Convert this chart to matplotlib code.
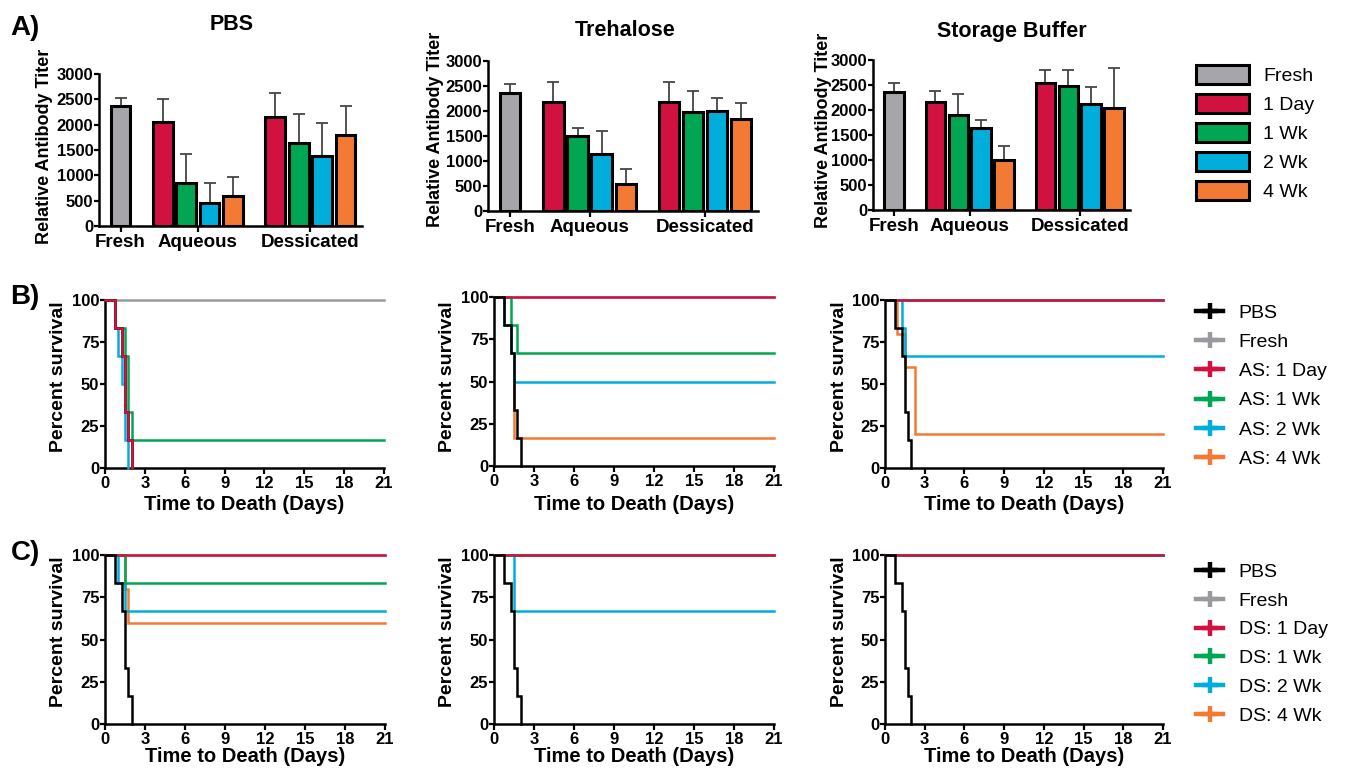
import matplotlib
matplotlib.use('Agg')
import matplotlib.pyplot as plt
from matplotlib.lines import Line2D
from matplotlib.patches import Patch
import numpy as np

plt.rcParams['font.family'] = ['Liberation Sans', 'DejaVu Sans']

# ---------------- data ----------------
bar_groups = ['Fresh', '1 Day', '1 Wk', '2 Wk', '4 Wk']
category_labels = ['Fresh', 'Aqueous', 'Dessicated']
formulations = ['PBS', 'Trehalose', 'Storage Buffer']

# relative antibody titer (mean, upper SD)
pbs_fresh, pbs_fresh_err = 2360, 175
pbs_aq = [2050, 855, 455, 590]
pbs_aq_err = [460, 575, 400, 385]
pbs_ds = [2150, 1630, 1380, 1800]
pbs_ds_err = [475, 590, 660, 565]

tre_fresh, tre_fresh_err = 2370, 175
tre_aq = [2190, 1500, 1145, 535]
tre_aq_err = [385, 170, 465, 310]
tre_ds = [2190, 1985, 2005, 1840]
tre_ds_err = [385, 415, 265, 315]

sb_fresh, sb_fresh_err = 2370, 180
sb_aq = [2165, 1900, 1640, 1010]
sb_aq_err = [220, 415, 155, 280]
sb_ds = [2535, 2480, 2130, 2045]
sb_ds_err = [260, 330, 325, 805]

# survival curves: (event times in days, percent survival)
pbs_ctrl_t = [0, 0.75, 1.25, 1.5, 1.75, 2.0]
pbs_ctrl_s = [100, 83.33, 66.67, 33.33, 16.67, 0]
flat_t = [0, 21]
flat_s = [100, 100]

# Row B: aqueous storage (AS)
b1_1day_t = [0, 0.75, 1.25, 1.5, 1.75, 2.0]
b1_1day_s = [100, 83.33, 66.67, 33.33, 16.67, 0]
b1_1wk_t = [0, 0.75, 1.5, 1.75, 2.0, 21]
b1_1wk_s = [100, 83.33, 66.67, 33.33, 16.67, 16.67]
b1_2wk_t = [0, 0.75, 1.0, 1.25, 1.5, 1.75]
b1_2wk_s = [100, 83.33, 66.67, 50, 16.67, 0]
b1_4wk_t = [0, 0.75, 1.25, 1.5, 1.75, 2.0]
b1_4wk_s = [100, 83.33, 66.67, 33.33, 16.67, 0]

b2_1wk_t = [0, 1.25, 1.75, 21]
b2_1wk_s = [100, 83.33, 66.67, 66.67]
b2_2wk_t = [0, 0.75, 1.25, 1.5, 21]
b2_2wk_s = [100, 83.33, 66.67, 50, 50]
b2_4wk_t = [0, 0.75, 1.25, 1.5, 21]
b2_4wk_s = [100, 83.33, 66.67, 16.67, 16.67]

b3_2wk_t = [0, 1.25, 1.5, 21]
b3_2wk_s = [100, 83.33, 66.67, 66.67]
b3_4wk_t = [0, 0.9, 1.5, 2.25, 21]
b3_4wk_s = [100, 80, 60, 20, 20]

# Row C: dessicated storage (DS)
c1_1wk_t = [0, 1.5, 21]
c1_1wk_s = [100, 83.33, 83.33]
c1_2wk_t = [0, 1.0, 1.5, 21]
c1_2wk_s = [100, 83.33, 66.67, 66.67]
c1_4wk_t = [0, 1.5, 1.75, 21]
c1_4wk_s = [100, 80, 60, 60]

c2_2wk_t = [0, 1.5, 21]
c2_2wk_s = [100, 66.67, 66.67]

surv_legend_b = ['PBS', 'Fresh', 'AS: 1 Day', 'AS: 1 Wk', 'AS: 2 Wk', 'AS: 4 Wk']
surv_legend_c = ['PBS', 'Fresh', 'DS: 1 Day', 'DS: 1 Wk', 'DS: 2 Wk', 'DS: 4 Wk']

# ---------------- style ----------------
C_GRAY = '#A5A5AA'
C_RED = '#D11241'
C_GREEN = '#00A651'
C_BLUE = '#00AEDB'
C_ORANGE = '#F37A35'
bar_colors = [C_GRAY, C_RED, C_GREEN, C_BLUE, C_ORANGE]
line_colors = ['black', '#9A9A9E', C_RED, C_GREEN, C_BLUE, C_ORANGE]

W, H = 1346, 772
fig = plt.figure(figsize=(W / 100, H / 100), dpi=100)


def px(l, t, r, b):
    return [l / W, 1 - b / H, (r - l) / W, (b - t) / H]


def ftext(x, y, s, **kw):
    fig.text(x / W, 1 - y / H, s, ha='center', va='center', **kw)


def style_axes(ax, ysize):
    for sp in ['top', 'right']:
        ax.spines[sp].set_visible(False)
    for sp in ['left', 'bottom']:
        ax.spines[sp].set_linewidth(1.8)
    ax.tick_params(axis='x', direction='out', length=4, width=1.6, labelsize=12, pad=1.5)
    ax.tick_params(axis='y', direction='out', length=3.5, width=1.6, labelsize=ysize, pad=0.6)
    for lab in ax.get_xticklabels() + ax.get_yticklabels():
        lab.set_fontweight('bold')


# ---------------- Row A: bar charts ----------------
bar_data = [
    (pbs_fresh, pbs_fresh_err, pbs_aq, pbs_aq_err, pbs_ds, pbs_ds_err),
    (tre_fresh, tre_fresh_err, tre_aq, tre_aq_err, tre_ds, tre_ds_err),
    (sb_fresh, sb_fresh_err, sb_aq, sb_aq_err, sb_ds, sb_ds_err),
]
a_boxes = [px(99, 74, 362, 226), px(488, 61, 758, 211), px(873, 60, 1130, 210)]
title_pos = [(232, 25), (625, 31), (1012, 31)]
ylab_pos = [(45, 146), (436, 129), (823, 130)]

aq_x = 1.8 + np.arange(4)
ds_x = 6.6 + np.arange(4)
for box, d, tpos, ypos, title in zip(a_boxes, bar_data, title_pos, ylab_pos, formulations):
    ax = fig.add_axes(box)
    fresh, fresh_err, aq, aq_err, ds, ds_err = d
    xs = np.concatenate([[0.0], aq_x, ds_x])
    hs = np.array([fresh] + list(aq) + list(ds), dtype=float)
    es = np.array([fresh_err] + list(aq_err) + list(ds_err), dtype=float)
    cols = [bar_colors[0]] + bar_colors[1:] + bar_colors[1:]
    ax.errorbar(xs, hs, yerr=[np.zeros_like(es), es], fmt='none', ecolor='#454545',
                elinewidth=1.3, capsize=4, capthick=1.3, zorder=1)
    ax.bar(xs, hs, width=0.84, color=cols, edgecolor='black', linewidth=2.2, zorder=2)
    ax.set_xlim(-0.92, 10.3)
    ax.set_ylim(0, 3000)
    ax.set_yticks(np.arange(0, 3001, 500))
    ax.set_xticks([0, aq_x.mean(), ds_x.mean()])
    ax.set_xticklabels(category_labels)
    style_axes(ax, 12)
    for lab in ax.get_xticklabels():
        lab.set_fontsize(13.5)
    ftext(tpos[0], tpos[1], title, fontsize=15.5, fontweight='bold')
    ftext(ypos[0], ypos[1], 'Relative Antibody Titer', fontsize=13, fontweight='bold', rotation=90)

handles_a = [Patch(facecolor=c, edgecolor='black', linewidth=2.2) for c in bar_colors]
fig.legend(handles_a, bar_groups, loc='upper left', bbox_to_anchor=(1196 / W, 1 - 65 / H),
           frameon=False, fontsize=14, borderpad=0, handlelength=2.7, handleheight=1.1,
           handletextpad=0.75, labelspacing=0.47, borderaxespad=0)

# ---------------- Rows B & C: survival ----------------
row_b = [
    [(pbs_ctrl_t, pbs_ctrl_s), (flat_t, flat_s), (b1_1day_t, b1_1day_s),
     (b1_1wk_t, b1_1wk_s), (b1_2wk_t, b1_2wk_s), (b1_4wk_t, b1_4wk_s)],
    [(pbs_ctrl_t, pbs_ctrl_s), (flat_t, flat_s), (flat_t, flat_s),
     (b2_1wk_t, b2_1wk_s), (b2_2wk_t, b2_2wk_s), (b2_4wk_t, b2_4wk_s)],
    [(pbs_ctrl_t, pbs_ctrl_s), (flat_t, flat_s), (flat_t, flat_s),
     (flat_t, flat_s), (b3_2wk_t, b3_2wk_s), (b3_4wk_t, b3_4wk_s)],
]
row_c = [
    [(pbs_ctrl_t, pbs_ctrl_s), (flat_t, flat_s), (flat_t, flat_s),
     (c1_1wk_t, c1_1wk_s), (c1_2wk_t, c1_2wk_s), (c1_4wk_t, c1_4wk_s)],
    [(pbs_ctrl_t, pbs_ctrl_s), (flat_t, flat_s), (flat_t, flat_s),
     (flat_t, flat_s), (c2_2wk_t, c2_2wk_s), (flat_t, flat_s)],
    [(pbs_ctrl_t, pbs_ctrl_s), (flat_t, flat_s), (flat_t, flat_s),
     (flat_t, flat_s), (flat_t, flat_s), (flat_t, flat_s)],
]
b_boxes = [px(105, 300, 384, 468), px(494, 297, 774, 466), px(885, 300, 1163, 468)]
c_boxes = [px(105, 555, 385, 724), px(494, 555, 774, 724), px(885, 555, 1163, 724)]
# draw order (index into series): gray, orange, blue, green, red, black
order_default = [1, 5, 4, 3, 2, 0]
order_b1 = [1, 5, 4, 3, 0, 2]

for row, boxes, ycen, xlab_y in [(row_b, b_boxes, 377, 504), (row_c, c_boxes, 632, 757)]:
    for i, (curves, box) in enumerate(zip(row, boxes)):
        ax = fig.add_axes(box)
        order = order_b1 if (row is row_b and i == 0) else order_default
        for z, k in enumerate(order):
            t, s = curves[k]
            ax.step(t, s, where='post', color=line_colors[k], lw=1.8,
                    clip_on=False, zorder=3 + z, solid_joinstyle='miter')
        ax.set_xlim(0, 21)
        ax.set_ylim(0, 100)
        ax.set_xticks(np.arange(0, 22, 3))
        ax.set_yticks([0, 25, 50, 75, 100])
        style_axes(ax, 12)
        l, b, w, h = box
        xc = (l + w / 2) * W
        ftext(xc, xlab_y, 'Time to Death (Days)', fontsize=14.5, fontweight='bold')
        ftext(l * W - 46, ycen, 'Percent survival', fontsize=14, fontweight='bold', rotation=90)

handles_s = [Line2D([], [], color=c, lw=3.2, marker='+', markersize=12, markeredgewidth=3.2)
             for c in line_colors]
fig.legend(handles_s, surv_legend_b, loc='upper left', bbox_to_anchor=(1196 / W, 1 - 304 / H),
           frameon=False, fontsize=14, borderpad=0, handlelength=1.4,
           handletextpad=0.8, labelspacing=0.6, borderaxespad=0)
fig.legend(handles_s, surv_legend_c, loc='upper left', bbox_to_anchor=(1196 / W, 1 - 563 / H),
           frameon=False, fontsize=14, borderpad=0, handlelength=1.4,
           handletextpad=0.8, labelspacing=0.58, borderaxespad=0)

# panel letters
ftext(25, 28, 'A)', fontsize=20, fontweight='bold')
ftext(25, 297, 'B)', fontsize=20, fontweight='bold')
ftext(25, 553, 'C)', fontsize=20, fontweight='bold')

fig.savefig('out.png', dpi=100)
